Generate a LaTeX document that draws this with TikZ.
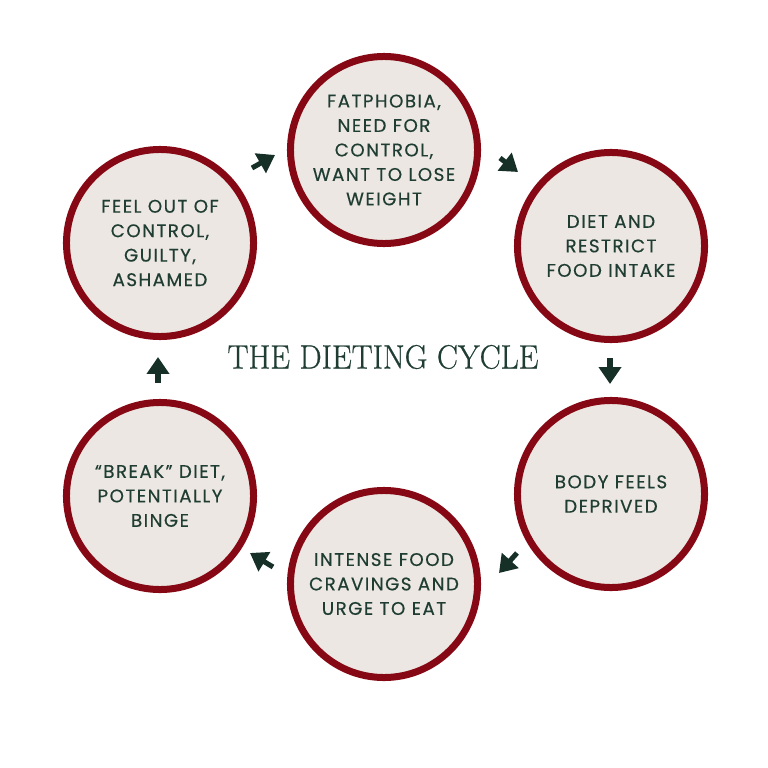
\documentclass[tikz,border=0pt]{standalone}
\usepackage{fontspec}
\usepackage{tikz}
\usetikzlibrary{arrows.meta, positioning}
\newfontfamily\cyclefont[LetterSpace=8, FakeBold=0.4]{Poppins}
\newfontfamily\titlefont[FakeBold=0.7]{Latin Modern Roman}
\definecolor{ringred}{RGB}{134,8,20}
\definecolor{circlebg}{RGB}{236,231,226}
\definecolor{textgreen}{RGB}{31,61,51}
\definecolor{arrowgreen}{RGB}{22,48,40}

\begin{document}
\begin{tikzpicture}[
  x=0.025cm, y=-0.025cm,
  stage/.style    = {circle, draw=ringred, fill=circlebg, line width=4.98pt,
                     minimum size=4.675cm, inner sep=0pt, align=center,
                     text=textgreen, font=\cyclefont\fontsize{13}{17.4}\selectfont},
  cyclearrow/.style = {-{Triangle[length=12pt, width=15.5pt]}, line width=3.6pt,
                     draw=arrowgreen},
  title/.style    = {font=\titlefont\fontsize{24}{28}\selectfont, text=textgreen},
]

\useasboundingbox (0,0) rectangle (768,768);

%% ==================== STAGES OF THE CYCLE ====================
\node[stage] (fatphobia) at (384,150) {FATPHOBIA,\\NEED FOR\\CONTROL,\\WANT TO LOSE\\WEIGHT};
\node[stage] (diet)      at (611,246) {DIET AND\\RESTRICT\\FOOD INTAKE};
\node[stage] (deprived)  at (611,494) {BODY FEELS\\DEPRIVED};
\node[stage] (cravings)  at (384,584) {INTENSE FOOD\\CRAVINGS AND\\URGE TO EAT};
\node[stage] (binge)     at (160,496) {“BREAK” DIET,\\POTENTIALLY\\BINGE};
\node[stage] (guilt)     at (160,243) {FEEL OUT OF\\CONTROL,\\GUILTY,\\ASHAMED};

%% Title in the middle
\node[title] (cycletitle) at (383,357) {\scalebox{0.93}[1]{THE DIETING CYCLE}};

%% ==================== ARROWS ====================
\coordinate (a1s) at (252,168); \coordinate (a1e) at (275,155);
\coordinate (a2s) at (500,158); \coordinate (a2e) at (518,172);
\coordinate (a3s) at (610,358); \coordinate (a3e) at (610,384);
\coordinate (a4s) at (517,553); \coordinate (a4e) at (499,573);
\coordinate (a5s) at (273,567); \coordinate (a5e) at (250,553);
\coordinate (a6s) at (158,383); \coordinate (a6e) at (158,357);

\draw[cyclearrow] (a1s) -- (a1e);
\draw[cyclearrow] (a2s) -- (a2e);
\draw[cyclearrow] (a3s) -- (a3e);
\draw[cyclearrow] (a4s) -- (a4e);
\draw[cyclearrow] (a5s) -- (a5e);
\draw[cyclearrow] (a6s) -- (a6e);

\end{tikzpicture}
\end{document}
